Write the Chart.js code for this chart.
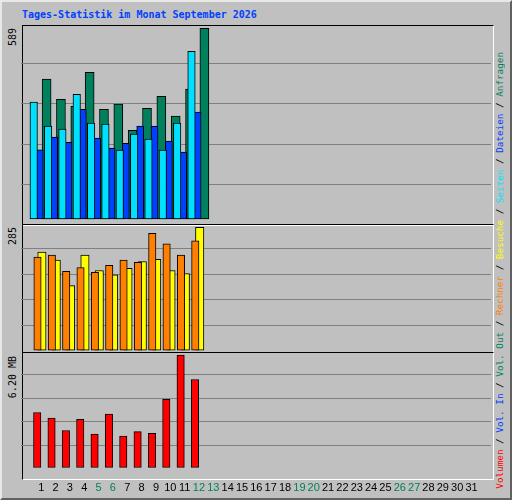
<!DOCTYPE html>
<html>
<head>
<meta charset="utf-8">
<script src="https://cdn.jsdelivr.net/npm/chart.js@4"></script>
<style>
  body { margin: 0; background: #fff; }
  #frame { position: absolute; left: 0; top: 0; width: 508px; height: 496px; background: #c0c0c0;
           border: 2px solid; border-color: #e8e8e8 #606060 #606060 #e8e8e8; }
  .title { position: absolute; left: 20px; top: 7px; font: bold 10px "DejaVu Sans Mono", monospace; color: #0040ff; }
  .panel { position: absolute; left: 20px; width: 470px; border: 1px solid; border-color: #000 #fff #fff #000; }
  .vtxt { position: absolute; writing-mode: vertical-rl; transform: rotate(180deg);
          font: 10px "DejaVu Sans Mono", monospace; white-space: nowrap; }
  canvas { position: absolute; }
</style>
</head>
<body>
<div id="frame">
  <div class="title">Tages-Statistik im Monat September 2026</div>
  <div class="panel" style="top:23px;height:199px"></div>
  <div class="panel" style="top:222px;height:127px"></div>
  <div class="panel" style="top:350px;height:126px"></div>
  <div class="vtxt" style="left:5px;top:26px">589</div>
  <div class="vtxt" style="left:5px;top:225px">285</div>
  <div class="vtxt" style="left:5px;top:354px">6.20 MB</div>
  <div class="vtxt" style="left:492px;top:50px;font-size:9.3px">
    <span style="color:#ff0000">Volumen</span> / <span style="color:#0040ff">Vol. In</span> / <span style="color:#00805c">Vol. Out</span> / <span style="color:#ff8000">Rechner</span> / <span style="color:#ffff00">Besuche</span> / <span style="color:#00e0ff">Seiten</span> / <span style="color:#0040ff">Dateien</span> / <span style="color:#00805c">Anfragen</span>
  </div>
</div>
<canvas id="c1" style="left:21px;top:24px;width:470px;height:200px"></canvas>
<canvas id="c2" style="left:21px;top:223px;width:470px;height:128px"></canvas>
<canvas id="c3" style="left:21px;top:351px;width:470px;height:149px"></canvas>
<script>
const days = Array.from({length: 31}, (_, i) => i + 1);
const weekend = [5, 6, 12, 13, 19, 20, 26, 27];
const hits   = [432, 370, 348, 453, 339, 355, 274, 342, 379, 318, 401, 589];
const files  = [214, 253, 237, 339, 250, 219, 234, 287, 287, 241, 207, 330];
const pages  = [361, 287, 278, 385, 296, 293, 213, 262, 247, 213, 296, 518];
const visits = [228, 209, 150, 221, 185, 175, 190, 206, 211, 185, 178, 285];
const sites  = [216, 221, 183, 192, 181, 197, 209, 204, 271, 247, 221, 254];
const volume = [3.03, 2.72, 2.04, 2.66, 1.84, 2.94, 1.73, 1.98, 1.88, 3.76, 6.20, 4.85];

const pts = arr => arr.map((v, i) => ({x: days[i], y: v}));

// webalizer draws the series of one day overlapping, shifted a few pixels
function moveBars(chart, sign) {
  chart.data.datasets.forEach((ds, i) => {
    chart.getDatasetMeta(i).data.forEach(el => { el.x += sign * (ds.shift || 0); });
  });
}
const shiftBars = {
  id: 'shiftBars',
  beforeDatasetsDraw(chart) { moveBars(chart, 1); },
  afterDatasetsDraw(chart) { moveBars(chart, -1); }
};

function makeChart(id, datasets, min, max, showX) {
  const step = (max - min) / 5;
  return new Chart(document.getElementById(id), {
    type: 'bar',
    data: { datasets },
    plugins: [shiftBars],
    options: {
      responsive: false, animation: false,
      layout: { padding: 0 },
      plugins: { legend: { display: false }, tooltip: { enabled: false } },
      scales: {
        x: {
          type: 'linear', min: 0.12, max: 31.83, display: showX,
          afterBuildTicks: ax => { ax.ticks = days.map(d => ({value: d})); },
          grid: { display: false }, border: { display: false },
          ticks: {
            autoSkip: false, maxRotation: 0, padding: 5,
            font: { family: 'Liberation Sans', size: 11 },
            color: c => weekend.includes(c.tick.value) ? '#00805c' : '#000'
          }
        },
        y: {
          min, max,
          afterBuildTicks: ax => { ax.ticks = [0, 1, 2, 3, 4, 5].map(k => ({value: min + k * step})); },
          ticks: { display: false },
          border: { display: false },
          grid: { color: c => (c.index === 0 || c.index === 5) ? 'rgba(0,0,0,0)' : '#808080', drawTicks: false, lineWidth: 1 }
        }
      }
    }
  });
}

const bar = (data, color, w, shift, order) => ({
  data: pts(data), backgroundColor: color, borderColor: '#000', borderWidth: 1,
  borderSkipped: false, barThickness: w, shift, order
});

makeChart('c1', [
  bar(hits, '#00805c', 9, -3.6, 3),
  bar(files, '#0040ff', 7, -1.4, 2),
  bar(pages, '#00e0ff', 7.5, 0, 1)
], -15.4, 602.3, false);

makeChart('c2', [
  bar(visits, '#ffff00', 8.4, -3.5, 2),
  bar(sites, '#ff8000', 7.4, 0, 1)
], -1.7, 295.2, false);

makeChart('c3', [
  bar(volume, '#ff0000', 7.4, -4, 1)
], -0.07, 6.42, true);
</script>
</body>
</html>
